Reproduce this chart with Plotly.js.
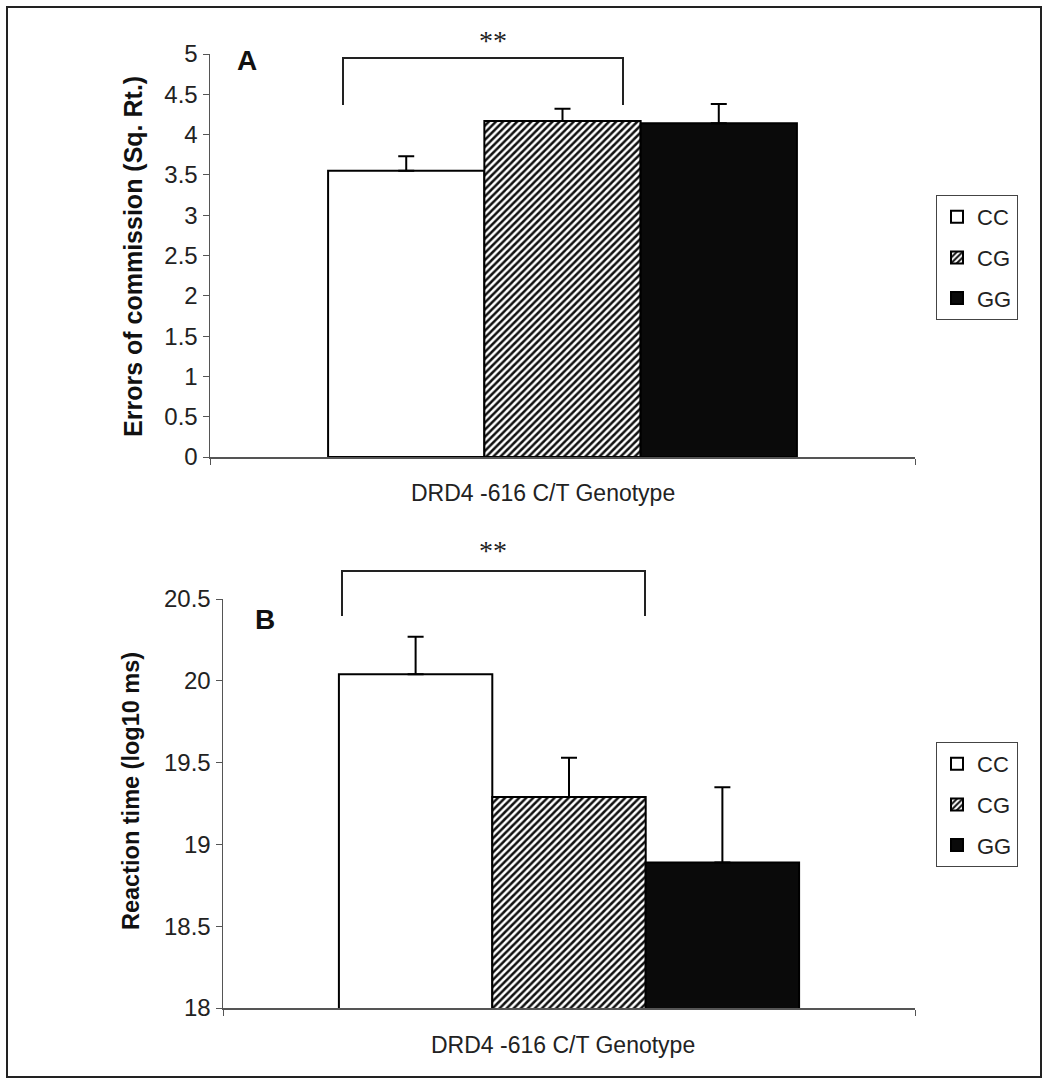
<!DOCTYPE html>
<html>
<head>
<meta charset="utf-8">
<script src="https://cdn.plot.ly/plotly-3.0.1.min.js"></script>
<style>html,body{margin:0;padding:0;background:#fff;}#chart{width:1048px;height:1084px;}</style>
</head>
<body>
<div id="chart"></div>
<script>
// ---- data ----
const category = ["DRD4 -616 C/T Genotype"];
const genotypes = ["CC", "CG", "GG"];
const errorsMean = [3.55, 4.17, 4.14];
const errorsSE = [0.18, 0.15, 0.24];
const rtMean = [20.04, 19.29, 18.89];
const rtSE = [0.23, 0.24, 0.46];
const yTicksA = [0, 0.5, 1, 1.5, 2, 2.5, 3, 3.5, 4, 4.5, 5];
const yTicksB = [18, 18.5, 19, 19.5, 20, 20.5];

// ---- helpers ----
const W = 1048, H = 1084;
const px = p => p / W;
const py = p => 1 - p / H;
const FONT = "Liberation Sans, Arial, sans-serif";

function fillFor(i) {
  if (i === 0) return {color: "#ffffff"};
  if (i === 1) return {color: "#ffffff", pattern: {shape: "/", fgcolor: "#111", bgcolor: "#fff", size: 5, solidity: 0.5}};
  return {color: "#0a0a0a"};
}

const traces = [];
genotypes.forEach((g, i) => {
  const f = fillFor(i);
  traces.push({
    type: "bar", name: g, x: category, y: [errorsMean[i]],
    xaxis: "x", yaxis: "y", legend: "legend", legendgroup: "a" + g,
    marker: Object.assign({line: {color: "#000", width: 2}}, f),
    error_y: {type: "data", symmetric: false, array: [errorsSE[i]], arrayminus: [0], color: "#000", thickness: 2, width: 8},
    hoverinfo: "skip"
  });
});
genotypes.forEach((g, i) => {
  const f = fillFor(i);
  traces.push({
    type: "bar", name: g, x: category, y: [rtMean[i]],
    xaxis: "x2", yaxis: "y2", legend: "legend2", legendgroup: "b" + g,
    base: 0,
    marker: Object.assign({line: {color: "#000", width: 2}}, f),
    error_y: {type: "data", symmetric: false, array: [rtSE[i]], arrayminus: [0], color: "#000", thickness: 2, width: 8},
    hoverinfo: "skip"
  });
});

const yaxisCommon = {
  showline: true, linecolor: "#555", linewidth: 1.5, ticks: "outside", ticklen: 6, tickcolor: "#555",
  showgrid: false, zeroline: false, tickfont: {family: FONT, size: 24, color: "#222"}, tickmode: "array", fixedrange: true
};
const xaxisCommon = {
  type: "category", showline: true, linecolor: "#555", linewidth: 1.5, ticks: "outside", tickson: "boundaries",
  ticklen: 6, tickcolor: "#555", showticklabels: false, showgrid: false, zeroline: false, fixedrange: true
};

const legendCommon = {
  bordercolor: "#444", borderwidth: 1, bgcolor: "#fff", font: {family: FONT, size: 22, color: "#222"},
  xanchor: "left", yanchor: "top", traceorder: "grouped", tracegroupgap: 9, itemwidth: 30
};

function bracket(x0, x1, yTop, yBot) {
  return {type: "path", xref: "paper", yref: "paper",
    path: `M ${px(x0)},${py(yBot)} L ${px(x0)},${py(yTop)} L ${px(x1)},${py(yTop)} L ${px(x1)},${py(yBot)}`,
    line: {color: "#222", width: 2}};
}

function label(text, x, y, font, extra) {
  return Object.assign({text: text, x: px(x), y: py(y), xref: "paper", yref: "paper", showarrow: false,
    xanchor: "center", yanchor: "middle", font: font}, extra || {});
}

const layout = {
  width: W, height: H,
  margin: {l: 0, r: 0, t: 0, b: 0},
  paper_bgcolor: "#fff", plot_bgcolor: "rgba(0,0,0,0)",
  barmode: "group", bargap: 0.335, bargroupgap: 0,
  xaxis: Object.assign({}, xaxisCommon, {domain: [px(210), px(915)], anchor: "y"}),
  yaxis: Object.assign({}, yaxisCommon, {domain: [py(457), py(54)], range: [0, 5], tickvals: yTicksA, anchor: "x"}),
  xaxis2: Object.assign({}, xaxisCommon, {domain: [px(223), px(915)], anchor: "y2"}),
  yaxis2: Object.assign({}, yaxisCommon, {domain: [py(1008), py(599)], range: [18, 20.5], tickvals: yTicksB, anchor: "x2"}),
  legend: Object.assign({}, legendCommon, {x: px(936), y: py(195)}),
  legend2: Object.assign({}, legendCommon, {x: px(936), y: py(742)}),
  showlegend: true,
  shapes: [
    {type: "rect", xref: "paper", yref: "paper", x0: px(7), x1: px(1041), y0: py(1077), y1: py(7), line: {color: "#222", width: 2}},
    bracket(343, 623, 58, 105),
    bracket(342, 645, 571, 616)
  ],
  annotations: [
    label("<b>A</b>", 247, 61, {family: FONT, size: 28, color: "#111"}),
    label("<b>B</b>", 265, 619, {family: FONT, size: 28, color: "#111"}),
    label("**", 493, 41, {family: "Liberation Serif, serif", size: 28, color: "#222"}),
    label("**", 493, 550, {family: "Liberation Serif, serif", size: 28, color: "#222"}),
    label("DRD4 -616 C/T Genotype", 543, 493, {family: FONT, size: 23, color: "#222"}),
    label("DRD4 -616 C/T Genotype", 563, 1045, {family: FONT, size: 23, color: "#222"}),
    label("<b>Errors of commission (Sq. Rt.)</b>", 133, 257, {family: FONT, size: 25, color: "#111"}, {textangle: -90}),
    label("<b>Reaction time (log10 ms)</b>", 131, 791, {family: FONT, size: 23.5, color: "#111"}, {textangle: -90})
  ]
};

Plotly.newPlot("chart", traces, layout, {displayModeBar: false, staticPlot: true});
</script>
</body>
</html>
